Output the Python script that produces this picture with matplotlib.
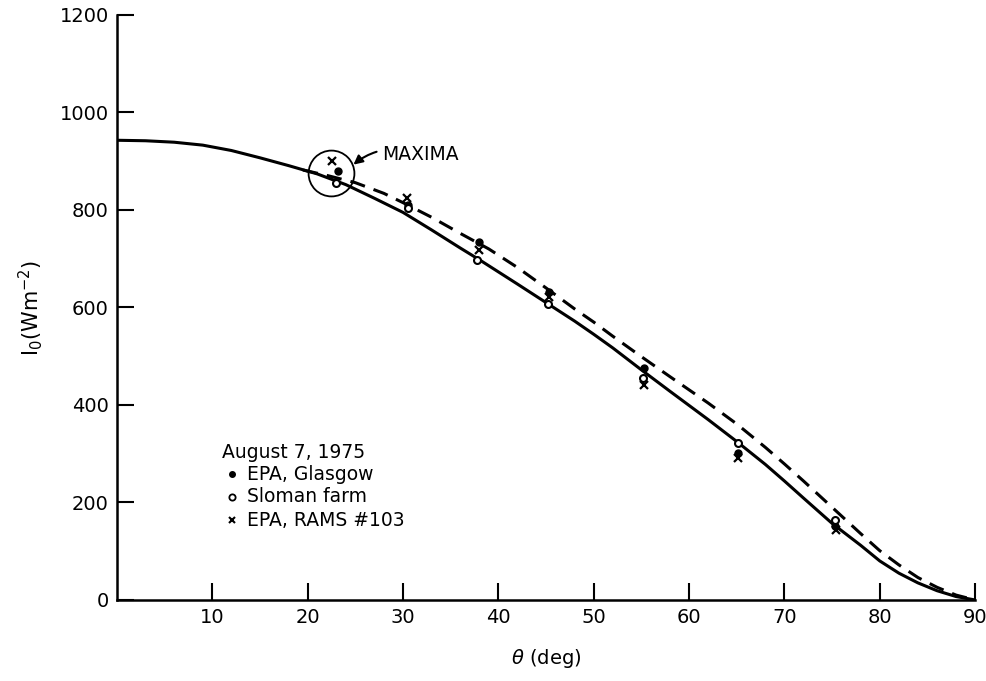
import numpy as np
import matplotlib
matplotlib.use("Agg")
import matplotlib.pyplot as plt

# solid curve
theta_solid = [0, 3, 6, 9, 12, 15, 18, 21, 24, 27, 30, 33, 36, 38, 40, 42, 45, 48, 50, 52,
               55, 58, 60, 62, 65, 68, 70, 72, 75, 78, 80, 82, 84, 86, 88, 90]
i_solid = [943, 942, 939, 933, 922, 907, 891, 874, 852, 824, 795, 759, 722, 698, 673, 648,
           610, 572, 545, 517, 472, 428, 399, 370, 325, 278, 244, 209, 157, 112, 80, 55,
           35, 19, 7, 0]

# dashed curve
theta_dash = [19.5, 22, 25, 28, 30, 33, 36, 39, 42, 45, 48, 50, 52, 55, 58, 60, 62, 65, 68,
              70, 72, 75, 78, 80, 82, 84, 86, 88, 90]
i_dash = [882, 871, 856, 834, 815, 785, 752, 720, 682, 640, 597, 570, 541, 499, 458, 431,
          404, 361, 313, 279, 244, 190, 136, 101, 72, 46, 26, 10, 0]

# measurements, August 7, 1975
glasgow_theta = [23.2, 30.5, 38.0, 45.3, 55.3, 65.1, 75.3]
glasgow_i = [880, 810, 734, 632, 475, 302, 152]
sloman_theta = [23.0, 30.5, 37.8, 45.2, 55.2, 65.1, 75.3]
sloman_i = [855, 805, 697, 607, 455, 322, 164]
rams_theta = [22.6, 30.4, 38.0, 45.3, 55.3, 65.1, 75.4]
rams_i = [901, 825, 718, 621, 440, 291, 144]

maxima_theta, maxima_i = 22.4, 876

xticks = [10, 20, 30, 40, 50, 60, 70, 80, 90]
yticks = [0, 200, 400, 600, 800, 1000, 1200]

plt.rcParams['font.family'] = ['DejaVu Sans']
fig = plt.figure(figsize=(9.87, 6.81), dpi=100)
ax = fig.add_axes([0.1185, 0.119, 0.8695, 0.859])

ax.plot(theta_solid, i_solid, color='black', lw=2.2)
ax.plot(theta_dash, i_dash, color='black', lw=2.2, dashes=(5, 3))

ax.plot(glasgow_theta, glasgow_i, 'o', color='black', ms=5)
ax.plot(sloman_theta, sloman_i, 'o', mfc='white', mec='black', mew=1.5, ms=5)
ax.plot(rams_theta, rams_i, 'x', color='black', mew=1.6, ms=6)

# maxima circle + label
ax.plot([maxima_theta], [maxima_i], 'o', mfc='none', mec='black', mew=1.3, ms=33)
ax.annotate('MAXIMA', xy=(24.8, 893), xytext=(27.8, 913),
            fontsize=13.5, va='center', ha='left',
            arrowprops=dict(arrowstyle='-|>', color='black', lw=1.5,
                            connectionstyle='arc3,rad=0.3', shrinkA=2, shrinkB=0))

# legend drawn as text
ax.text(11.0, 303, 'August 7, 1975', fontsize=13.5, va='center')
ax.plot([12.1], [258], 'o', color='black', ms=4)
ax.text(13.6, 258, 'EPA, Glasgow', fontsize=13.5, va='center')
ax.plot([12.1], [212], 'o', mfc='white', mec='black', mew=1.3, ms=4.5)
ax.text(13.6, 212, 'Sloman farm', fontsize=13.5, va='center')
ax.plot([12.1], [164], 'x', color='black', mew=1.5, ms=5)
ax.text(13.6, 164, 'EPA, RAMS #103', fontsize=13.5, va='center')

ax.set_xlim(0, 90)
ax.set_ylim(0, 1200)
ax.set_xticks(xticks)
ax.set_yticks(yticks)
ax.tick_params(direction='in', length=12, width=1.5, labelsize=14, pad=6)
for side in ['top', 'right']:
    ax.spines[side].set_visible(False)
for side in ['left', 'bottom']:
    ax.spines[side].set_linewidth(1.8)

ax.set_xlabel(r'$\theta$ (deg)', fontsize=14, labelpad=14)
ax.set_ylabel(r'I$_0$$\left(\mathrm{Wm}^{-2}\right)$', fontsize=15, labelpad=10)

fig.savefig('out.png', dpi=100)
